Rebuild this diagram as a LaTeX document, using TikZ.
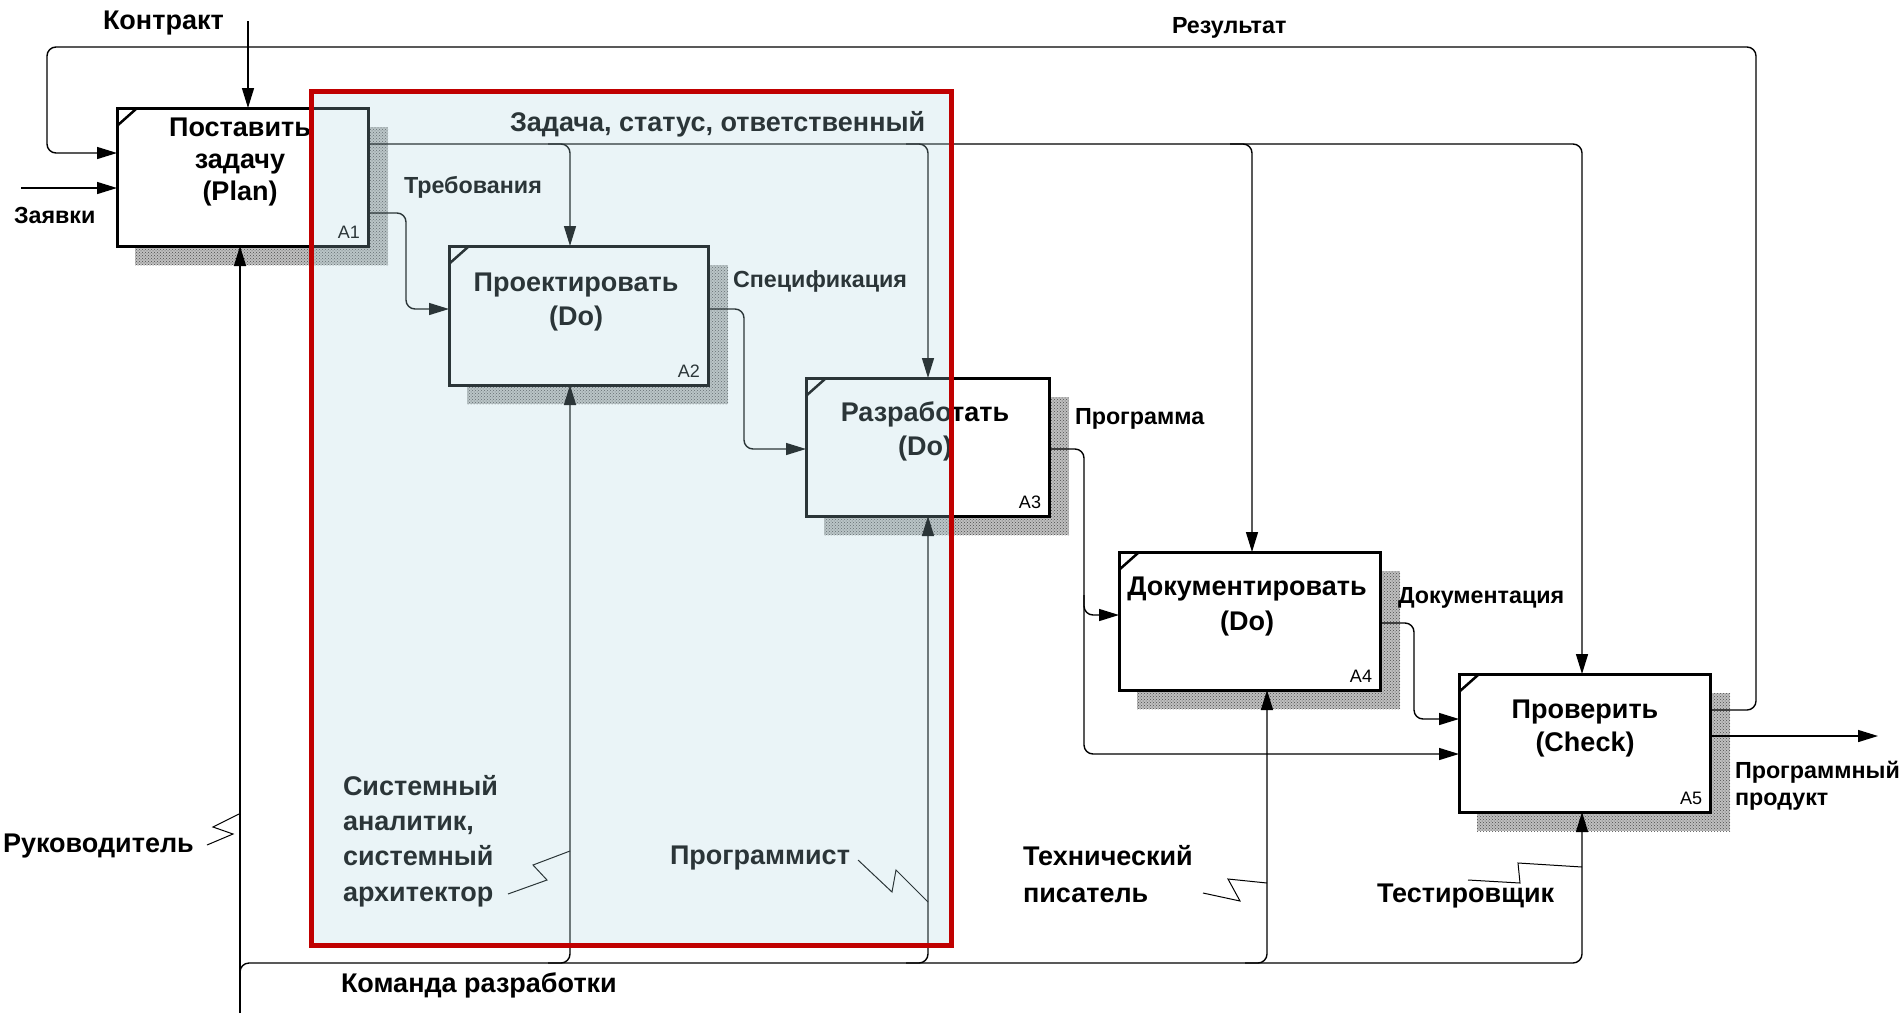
\documentclass[tikz,border=0pt]{standalone}
\usepackage{fontspec}
\setmainfont{Liberation Sans}
\usetikzlibrary{arrows.meta,patterns,calc}
\definecolor{redbox}{HTML}{C00000}
\definecolor{tint}{rgb}{0.68,0.84,0.88}
\begin{document}
\begin{tikzpicture}[x=1pt,y=-1pt,
  every node/.style={inner sep=0pt,outer sep=0pt},
  big/.style={font=\fontsize{27}{33}\selectfont\bfseries},
  small/.style={font=\fontsize{23.3}{27}\selectfont\bfseries},
  num/.style={font=\fontsize{18}{18}\selectfont},
  conn/.style={line width=1.4pt,rounded corners=9pt},
  arr/.style={-{Triangle[length=20pt,width=12pt]}},
  sq/.style={line width=1pt},
  box/.style={draw,line width=3pt,fill=white},
  shade/.style={preaction={fill=black!25},pattern=crosshatch dots,pattern color=black!70},
  tick/.style={line width=2.5pt}]
\fill[white] (0,0) rectangle (1901,1013);
\useasboundingbox (0,0) rectangle (1901,1013);

% shadows
\foreach \l/\t/\r/\b in {117/108/368/246,449/246/708/385,806/378/1049/516,1119/552/1380/690,1459/674/1710/812}
  \fill[shade] (\l+18,\t+19) rectangle (\r+20,\b+19);

% boxes
\node[box,minimum width=251pt,minimum height=138pt] (A1) at (242.5,177) {};
\node[box,minimum width=259pt,minimum height=139pt] (A2) at (578.5,315.5) {};
\node[box,minimum width=243pt,minimum height=138pt] (A3) at (927.5,447) {};
\node[box,minimum width=261pt,minimum height=138pt] (A4) at (1249.5,621) {};
\node[box,minimum width=251pt,minimum height=138pt] (A5) at (1584.5,743) {};
\foreach \n in {A1,A2,A3,A4,A5}{
  \draw[tick] ($(\n.north west)+(1,17)$) -- ($(\n.north west)+(19,1)$);
  \node[num,anchor=base east] at ([xshift=-8pt,yshift=8pt]\n.south east) {\n};
}

% box titles (base = last line)
\node[big,align=center,anchor=base,font=\fontsize{27}{32}\selectfont\bfseries] (t1) at (240,200) {Поставить\\задачу\\(Plan)};
\node[big,align=center,anchor=base,font=\fontsize{27}{34}\selectfont\bfseries] (t2) at (576,325) {Проектировать\\(Do)};
\node[big,align=center,anchor=base,font=\fontsize{27}{34}\selectfont\bfseries] (t3) at (925,455) {Разработать\\(Do)};
\node[big,align=center,anchor=base,font=\fontsize{27}{35}\selectfont\bfseries] (t4) at (1247,630) {Документировать\\(Do)};
\node[big,align=center,anchor=base,font=\fontsize{27}{33}\selectfont\bfseries] (t5) at (1585,751) {Проверить\\(Check)};

% coordinates of free ends
\coordinate (kin) at (248,21);
\coordinate (zin) at (21,188);
\coordinate (rin) at (240,1013);
\coordinate (pout) at (1878,736);

% connectors
\draw[conn,arr] (kin) -- (kin |- A1.north);
\draw[conn,arr] (zin) -- (zin -| A1.west);
\draw[conn,arr] (A5.east |- 0,710) -- (1756,710) -- (1756,47) -- (47,47) -- (47,153) -- (A1.west |- 0,153);
\draw[conn,arr] (rin) -- (rin |- A1.south);
\draw[conn,arr] (240,990) -- (240,963) -- (1582,963) -- (1582,0 |- A5.south);
\draw[conn,arr] (548,963) -- (570,963) -- (570,0 |- A2.south);
\draw[conn,arr] (906,963) -- (928,963) -- (928,0 |- A3.south);
\draw[conn,arr] (1245,963) -- (1267,963) -- (1267,0 |- A4.south);
\draw[conn,arr] (A1.east |- 0,144) -- (1582,144) -- (1582,0 |- A5.north);
\draw[conn,arr] (548,144) -- (570,144) -- (570,0 |- A2.north);
\draw[conn,arr] (906,144) -- (928,144) -- (928,0 |- A3.north);
\draw[conn,arr] (1230,144) -- (1252,144) -- (1252,0 |- A4.north);
\draw[conn,arr] (A1.east |- 0,213) -- (406,213) -- (406,309) -- (A2.west |- 0,309);
\draw[conn,arr] (A2.east |- 0,309) -- (744,309) -- (744,449) -- (A3.west |- 0,449);
\draw[conn,arr] (A3.east |- 0,449) -- (1084,449) -- (1084,754) -- (A5.west |- 0,754);
\draw[conn,arr] (1084,595) -- (1084,615) -- (A4.west |- 0,615);
\draw[conn,arr] (A4.east |- 0,623) -- (1414,623) -- (1414,719) -- (A5.west |- 0,719);
\draw[conn,arr] (A5.east |- pout) -- (pout);

% labels
\node[big,anchor=base west] (lkontrakt) at (103,29) {Контракт};
\node[small,anchor=base west] (lres) at (1172,33) {Результат};
\node[small,anchor=base west] (lzayavki) at (14,223) {Заявки};
\node[big,anchor=base west] (lzadacha) at (510,131) {Задача, статус, ответственный};
\node[small,anchor=base west] (ltreb) at (404,193) {Требования};
\node[small,anchor=base west] (lspec) at (733,287) {Спецификация};
\node[small,anchor=base west] (lprog) at (1075,424) {Программа};
\node[small,anchor=base west] (ldoc) at (1398,603) {Документация};
\node[small,anchor=base west,align=left] (lprod) at (1735,805) {Программный\\продукт};
\node[big,anchor=base west] (lruk) at (3,852) {Руководитель};
\node[big,anchor=base west,align=left,font=\fontsize{27}{35.3}\selectfont\bfseries] (lsys) at (343,901) {Системный\\аналитик,\\системный\\архитектор};
\node[big,anchor=base west] (lprogr) at (670,864) {Программист};
\node[big,anchor=base west] (lkom) at (341,992) {Команда разработки};
\node[big,anchor=base west,align=left,font=\fontsize{27}{36.7}\selectfont\bfseries] (ltech) at (1023,902) {Технический\\писатель};
\node[big,anchor=base west] (ltest) at (1377,902) {Тестировщик};

% squiggles
\draw[sq] (207,845) -- (233,834) -- (213,827) -- (239,814);
\draw[sq] (508,894) -- (547,880) -- (533,865) -- (570,851);
\draw[sq] (858,860) -- (892,892) -- (896,870) -- (928,902);
\draw[sq] (1203,893) -- (1240,901) -- (1228,879) -- (1267,883);
\draw[sq] (1468,880) -- (1520,883) -- (1518,863) -- (1582,867);

% highlighted region
\fill[tint,opacity=0.25] (311,91.5) rectangle (951,945);
\draw[redbox,line width=5pt] (311,91.5) rectangle (951,945);
\end{tikzpicture}
\end{document}
